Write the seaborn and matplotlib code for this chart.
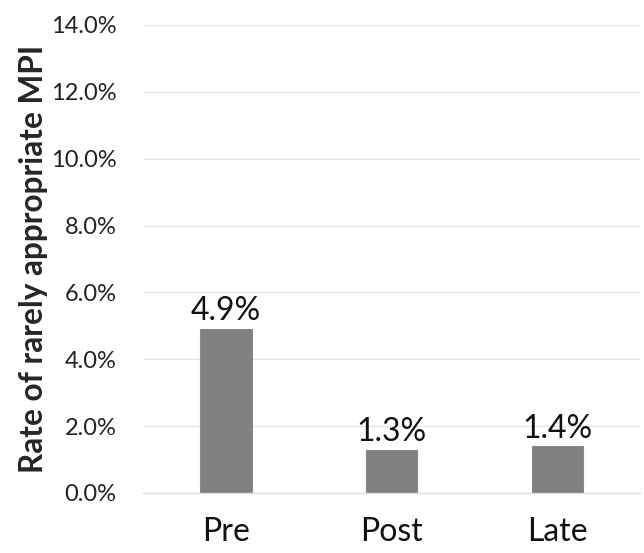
import matplotlib
matplotlib.use("Agg")
import matplotlib.pyplot as plt
import seaborn as sns
from matplotlib.ticker import PercentFormatter

# Dados do gráfico
periodos = ["Pre", "Post", "Late"]
taxas = [4.9, 1.3, 1.4]
rotulos = ["4.9%", "1.3%", "1.4%"]
ticks_y = [0, 2, 4, 6, 8, 10, 12, 14]

sns.set_style("white")
plt.rcParams["font.family"] = ["Lato", "DejaVu Sans"]

fig = plt.figure(figsize=(6.44, 5.53), dpi=100)
ax = fig.add_axes([0.222, 0.1085, 0.772, 0.8465])

sns.barplot(x=periodos, y=taxas, color="#808080", saturation=1, width=0.31,
            edgecolor="#8a8a8a", linewidth=0.8, ax=ax)

for i, (v, txt) in enumerate(zip(taxas, rotulos)):
    ax.text(i, v + 0.08, txt, ha="center", va="bottom", fontsize=23, color="#111111")

ax.set_ylim(0, 14)
ax.set_xlim(-0.5, 2.5)
ax.set_yticks(ticks_y)
ax.yaxis.set_major_formatter(PercentFormatter(decimals=1))
ax.yaxis.grid(True, color="#e6e6e6", linewidth=1)
ax.set_axisbelow(True)

for s in ["top", "right", "left"]:
    ax.spines[s].set_visible(False)
ax.spines["bottom"].set_color("#e0e0e0")
ax.spines["bottom"].set_linewidth(1)

ax.tick_params(axis="y", length=0, pad=19, labelsize=17, labelcolor="#222222")
ax.tick_params(axis="x", which="major", length=0, pad=17, labelsize=23, labelcolor="#111111")
ax.set_xticks([-0.5, 0.5, 1.5, 2.5], minor=True)
ax.tick_params(axis="x", which="minor", length=9, color="#e0e0e0", width=1)

ax.set_ylabel("Rate of rarely appropriate MPI", fontsize=22.8, fontweight="bold", labelpad=2)
ax.set_xlabel("")

plt.savefig("out.png", dpi=100)
